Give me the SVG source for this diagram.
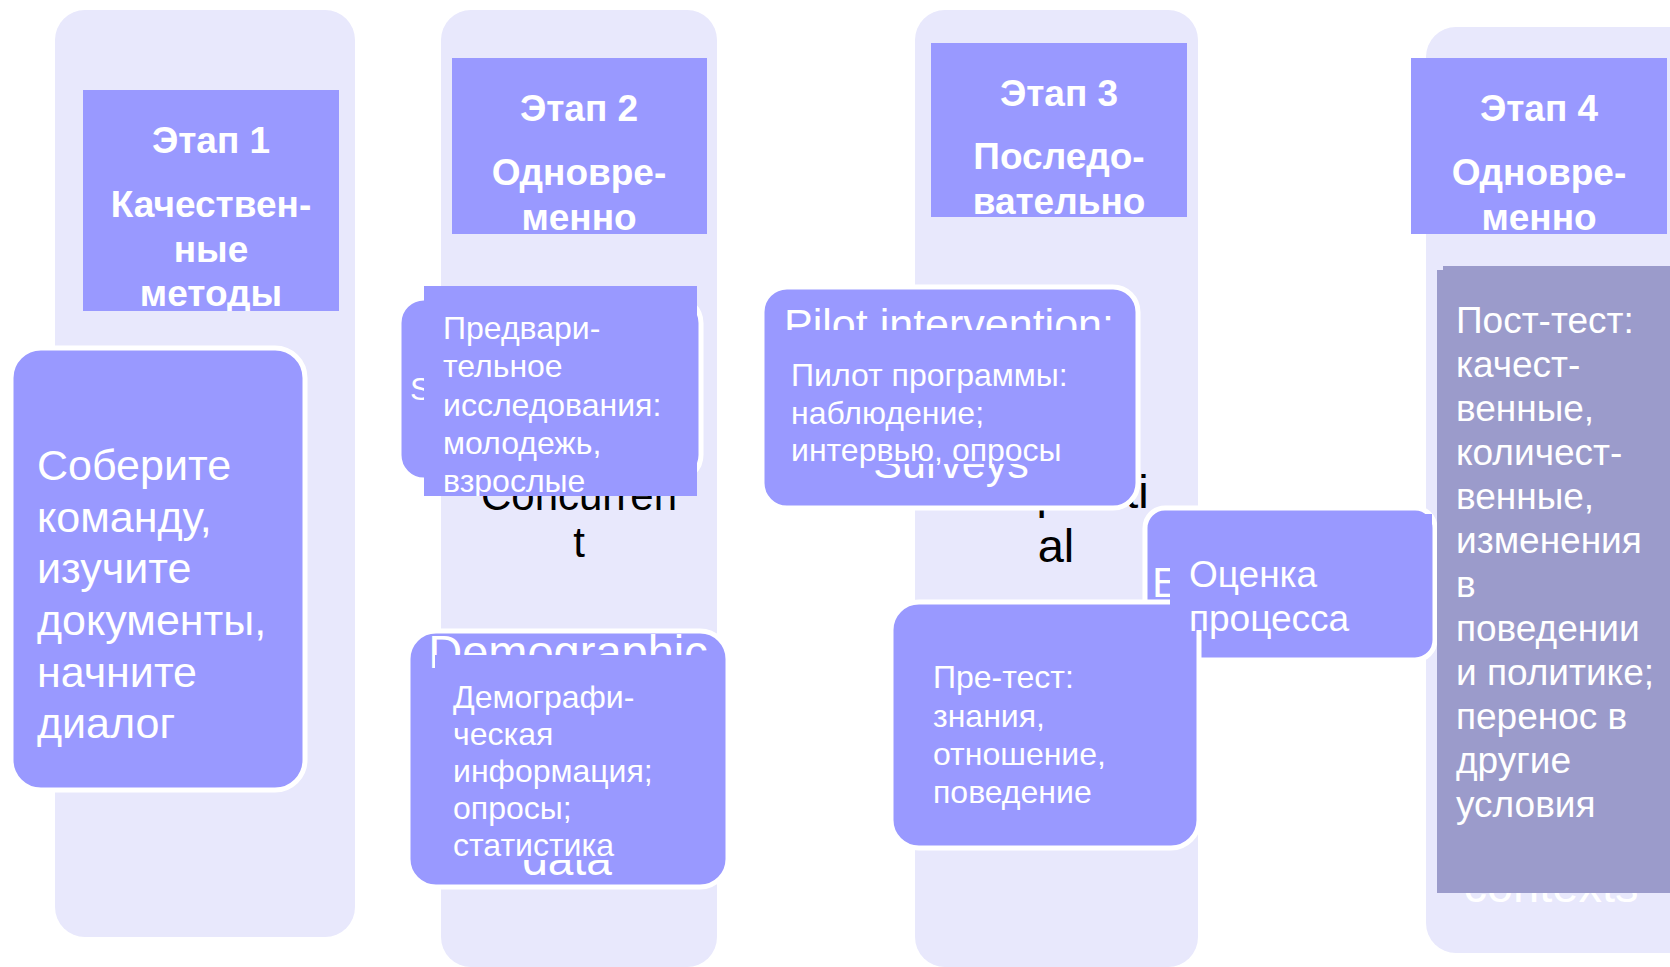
<svg xmlns="http://www.w3.org/2000/svg" width="1670" height="967" viewBox="0 0 1670 967">
<style>
.bg{fill:#E8E8FC}
.hd{fill:#9999FF}
.nd{fill:#9999FF;stroke:#FFFFFF;stroke-width:5}
.ov{fill:#9999FF}
.ht{font-family:"Liberation Sans",Arial,sans-serif;font-weight:bold;font-size:37px;fill:#FFFFFF;text-anchor:middle}
.t30{font-family:"Liberation Sans",Arial,sans-serif;font-size:32px;fill:#FFFFFF}
.t36{font-family:"Liberation Sans",Arial,sans-serif;font-size:37px;fill:#FFFFFF}
.t42{font-family:"Liberation Sans",Arial,sans-serif;font-size:43px;fill:#FFFFFF}
.en{font-family:"Liberation Sans",Arial,sans-serif;fill:#FFFFFF;text-anchor:middle}
.blk{font-family:"Liberation Sans",Arial,sans-serif;fill:#000000;text-anchor:middle}
</style>
<defs>
<clipPath id="c1"><rect x="83" y="90" width="256" height="221"/></clipPath>
<clipPath id="c2"><rect x="452" y="58" width="255" height="176"/></clipPath>
<clipPath id="c3"><rect x="931" y="43" width="256" height="174"/></clipPath>
<clipPath id="c4"><rect x="1411" y="58" width="256" height="176"/></clipPath>
<clipPath id="c5"><rect x="424" y="286" width="273" height="210"/></clipPath>
</defs>
<rect width="1670" height="967" fill="#FFFFFF"/>

<g id="columns">
<rect class="bg" x="55" y="10" width="300" height="927" rx="30"/>
<rect class="bg" x="441" y="10" width="276" height="957" rx="30"/>
<rect class="bg" x="915" y="10" width="283" height="957" rx="30"/>
<rect class="bg" x="1426" y="27" width="300" height="926" rx="30"/>
<text class="blk" font-size="42" x="579" y="510">Concurren</text>
<text class="blk" font-size="42" x="579" y="557">t</text>
<text class="blk" font-size="47" x="1056" y="508">Sequenti</text>
<text class="blk" font-size="47" x="1056" y="562">al</text>
</g>

<g id="header1">
<rect class="hd" x="83" y="90" width="256" height="221"/>
<g clip-path="url(#c1)">
<text class="ht" x="211" y="153">Этап 1</text>
<text class="ht" x="211" y="217">Качествен-</text>
<text class="ht" x="211" y="262">ные</text>
<text class="ht" x="211" y="306">методы</text>
</g>
</g>

<g id="header2">
<rect class="hd" x="452" y="58" width="255" height="176"/>
<g clip-path="url(#c2)">
<text class="ht" x="579" y="121">Этап 2</text>
<text class="ht" x="579" y="185">Одновре-</text>
<text class="ht" x="579" y="230">менно</text>
</g>
</g>

<g id="header3">
<rect class="hd" x="931" y="43" width="256" height="174"/>
<g clip-path="url(#c3)">
<text class="ht" x="1059" y="106">Этап 3</text>
<text class="ht" x="1059" y="169">Последо-</text>
<text class="ht" x="1059" y="214">вательно</text>
</g>
</g>

<g id="header4">
<rect class="hd" x="1411" y="58" width="256" height="176"/>
<g clip-path="url(#c4)">
<text class="ht" x="1539" y="121">Этап 4</text>
<text class="ht" x="1539" y="185">Одновре-</text>
<text class="ht" x="1539" y="230">менно</text>
</g>
</g>

<g id="node1">
<rect class="nd" x="11" y="348" width="294" height="442" rx="30"/>
<text class="t42" x="37" y="480">Соберите</text>
<text class="t42" x="37" y="532">команду,</text>
<text class="t42" x="37" y="583">изучите</text>
<text class="t42" x="37" y="635">документы,</text>
<text class="t42" x="37" y="687">начните</text>
<text class="t42" x="37" y="738">диалог</text>
</g>

<g id="node2a">
<rect class="nd" x="399" y="298" width="302" height="182" rx="25"/>
<text class="t30" x="410" y="400">S</text>
<rect class="ov" x="424" y="286" width="273" height="210"/>
<g clip-path="url(#c5)">
<text class="t30" x="443" y="339">Предвари-</text>
<text class="t30" x="443" y="377">тельное</text>
<text class="t30" x="443" y="416">исследования:</text>
<text class="t30" x="443" y="454">молодежь,</text>
<text class="t30" x="443" y="492">взрослые</text>
</g>
</g>

<g id="node2b">
<rect class="nd" x="408" y="631" width="320" height="256" rx="28"/>
<text class="en" font-size="47" x="568" y="668">Demographic</text>
<text class="en" font-size="46" x="567" y="875">data</text>
<rect class="ov" x="435" y="655" width="272" height="205"/>
<text class="t30" x="453" y="708">Демографи-</text>
<text class="t30" x="453" y="745">ческая</text>
<text class="t30" x="453" y="782">информация;</text>
<text class="t30" x="453" y="819">опросы;</text>
<text class="t30" x="453" y="856">статистика</text>
</g>

<g id="node3a">
<rect class="nd" x="762" y="287" width="376" height="221" rx="25"/>
<text class="en" font-size="43" x="949" y="339">Pilot intervention:</text>
<text class="en" font-size="43" x="951" y="478">Surveys</text>
<rect class="ov" x="770" y="330" width="362" height="134"/>
<text class="t30" x="791" y="386">Пилот программы:</text>
<text class="t30" x="791" y="424">наблюдение;</text>
<text class="t30" x="791" y="461">интервью, опросы</text>
</g>

<g id="node3c-base">
<rect class="nd" x="1145" y="508" width="290" height="152" rx="20"/>
<text class="t42" font-size="46" x="1152" y="597">E</text>
</g>

<g id="node3b">
<rect class="nd" x="891" y="602" width="308" height="246" rx="28"/>
<text class="t30" x="933" y="688">Пре-тест:</text>
<text class="t30" x="933" y="727">знания,</text>
<text class="t30" x="933" y="765">отношение,</text>
<text class="t30" x="933" y="803">поведение</text>
</g>

<g id="node3c">
<rect class="ov" x="1170" y="514" width="262" height="116"/>
<text class="t36" x="1189" y="587">Оценка</text>
<text class="t36" x="1189" y="631">процесса</text>
</g>

<g id="node4">
<text class="en" font-size="47" x="1551" y="902">contexts</text>
<path d="M1437 270 H1443 V266 H1670 V893 H1437 Z" fill="#9B9BCB"/>
<text class="t36" x="1456" y="333">Пост-тест:</text>
<text class="t36" x="1456" y="377">качест-</text>
<text class="t36" x="1456" y="421">венные,</text>
<text class="t36" x="1456" y="465">количест-</text>
<text class="t36" x="1456" y="509">венные,</text>
<text class="t36" x="1456" y="553">изменения</text>
<text class="t36" x="1456" y="597">в</text>
<text class="t36" x="1456" y="641">поведении</text>
<text class="t36" x="1456" y="685">и политике;</text>
<text class="t36" x="1456" y="729">перенос в</text>
<text class="t36" x="1456" y="773">другие</text>
<text class="t36" x="1456" y="817">условия</text>
</g>

<g id="connectors"></g>
</svg>
